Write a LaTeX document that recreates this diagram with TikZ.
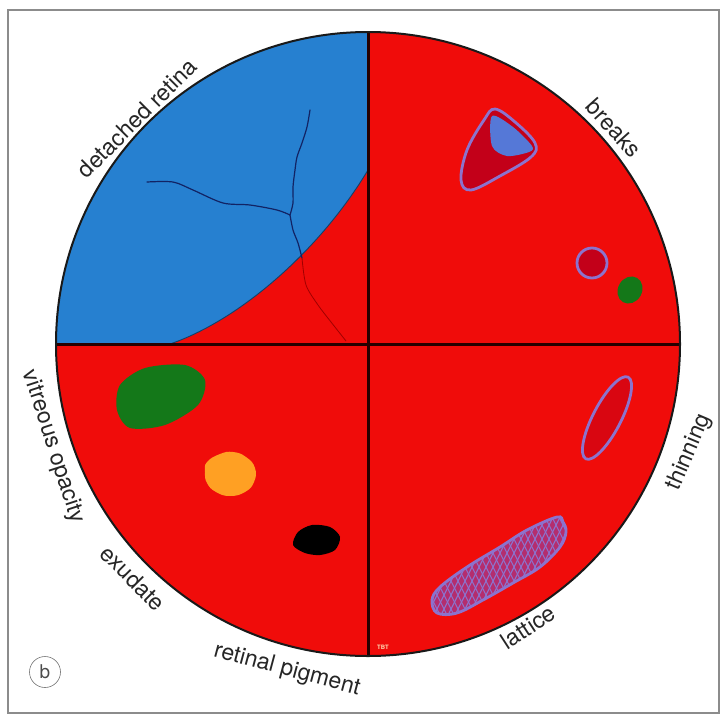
\documentclass[tikz,border=0pt]{standalone}
\usepackage{fontspec}
\setmainfont{TeX Gyre Heros}
\definecolor{retred}{RGB}{240,12,10}
\definecolor{detblue}{RGB}{38,128,208}
\definecolor{veinblue}{RGB}{18,35,100}
\definecolor{veinred}{RGB}{160,0,0}
\definecolor{lilac}{RGB}{140,115,205}
\definecolor{darkred}{RGB}{195,0,25}
\definecolor{breakblue}{RGB}{85,120,215}
\definecolor{opgreen}{RGB}{20,120,25}
\definecolor{exorange}{RGB}{255,160,35}
\definecolor{latfill}{RGB}{180,45,110}
\definecolor{framegray}{RGB}{140,140,140}
\begin{document}
\begin{tikzpicture}[x=1pt,y=-1pt,
  lbl/.style={inner sep=0pt, text=black!85, font=\fontsize{23}{26}\selectfont},
  rim/.style={draw=lilac, line width=2.8pt},
  vein/.style={draw=veinblue, line width=1.2pt, line cap=round, line join=round},
  axisline/.style={draw=black!85!red, line width=3pt}]
\useasboundingbox (0,0) rectangle (725,715);
% outer frame
\draw[framegray, line width=1.6pt] (8,10) rectangle (719,713);

% fundus disc
\coordinate (c) at (368,344);
\begin{scope}
  \clip (c) circle[radius=312];
  \fill[retred] (c) circle[radius=312];
  % detached retina in the upper left quadrant
  \fill[detblue] (40,344) -- (40,20) -- (368,20) -- (368,170)
     .. controls (320,250) and (240,320) .. (170,344) -- cycle;
  \draw[detblue!50!black, line width=0.9pt] (368,170)
     .. controls (320,250) and (240,320) .. (170,344);
  % vessels on the detached retina
  \draw[vein] plot[smooth] coordinates {(310,110) (307,127) (302,143) (297,157) (295,170) (293,187) (293,203) (290,215)};
  \draw[vein] plot[smooth] coordinates {(290,215) (277,210) (250,205) (223,203) (193,190) (173,182) (147,182)};
  \draw[vein] plot[smooth] coordinates {(290,215) (293,230) (298,243) (302,258)};
  \draw[veinred, line width=0.8pt] plot[smooth] coordinates {(302,258) (306,285) (318,305) (331,322) (346,341)};
\end{scope}

% quadrant lines and rim
\draw[axisline] (368,32) -- (368,656);
\draw[axisline] (56,344) -- (680,344);
\draw[black!90, line width=2pt] (c) circle[radius=312];

% breaks
\filldraw[rim, fill=darkred] plot[smooth cycle, tension=0.6] coordinates
  {(495,109) (515,122) (535,143) (531,157) (500,176) (471,190) (461,180) (467,150) (484,120)};
\fill[breakblue] plot[smooth cycle, tension=0.5] coordinates
  {(492,116) (513,127) (532,146) (529,152) (507,156) (492,146)};
\filldraw[rim, fill=darkred] (592,263) circle[radius=15];
\fill[opgreen, rotate around={-30:(630,290)}] (630,290) ellipse[x radius=12, y radius=14];

% thinning
\draw[rim, fill=darkred!50!retred, rotate around={62.6:(607,418)}] (607,418) ellipse[x radius=46, y radius=14];

% lattice
\begin{scope}
  \clip plot[smooth cycle, tension=0.6] coordinates
    {(563,522) (557,517) (527,530) (500,547) (467,567) (440,587) (432,600) (437,613) (457,613) (483,600) (513,583) (540,567) (560,547) (566,532)};
  \fill[latfill] (420,500) rectangle (580,630);
  \foreach \k in {-200,-193,...,200}{
    \draw[lilac, line width=1.1pt] (497+\k,563-150) -- (497+\k+150,563+150);
    \draw[lilac, line width=1.1pt] (497+\k,563-150) -- (497+\k-150,563+150);
  }
\end{scope}
\draw[rim] plot[smooth cycle, tension=0.6] coordinates
  {(563,522) (557,517) (527,530) (500,547) (467,567) (440,587) (432,600) (437,613) (457,613) (483,600) (513,583) (540,567) (560,547) (566,532)};

% vitreous opacity, exudate, pigment
\fill[opgreen] plot[smooth cycle] coordinates
  {(120,385) (145,368) (185,365) (205,380) (198,405) (165,425) (130,428) (117,410)};
\fill[exorange] plot[smooth cycle, tension=0.8] coordinates
  {(207,462) (220,454) (233,452) (246,457) (255,468) (254,482) (245,492) (230,496) (216,492) (207,483) (205,472)};
\fill[black] plot[smooth cycle] coordinates
  {(293,545) (298,532) (312,525) (330,527) (340,537) (335,550) (320,555) (305,553)};

% artist mark
\node[inner sep=0pt, text=orange!30, font=\fontsize{6}{6}\selectfont\bfseries] (mark) at (383,647) {TBT};

% labels around the rim
\node[lbl, rotate=45]  (ldet) at (137,118) {detached retina};
\node[lbl, rotate=-48] (lbrk) at (614,128) {breaks};
\node[lbl, rotate=67]  (lthn) at (689,452) {thinning};
\node[lbl, rotate=33]  (llat) at (528,627) {lattice};
\node[lbl, rotate=-15] (lpig) at (287,670) {retinal pigment};
\node[lbl, rotate=-45] (lexu) at (133,578) {exudate};
\node[lbl, rotate=-72] (lvit) at (53,447) {vitreous opacity};

% panel letter
\node[draw=black!55, circle, line width=0.6pt, minimum size=31pt, inner sep=0pt,
      text=black!70, font=\fontsize{19}{19}\selectfont] (panel) at (45,672) {b};
\end{tikzpicture}
\end{document}
